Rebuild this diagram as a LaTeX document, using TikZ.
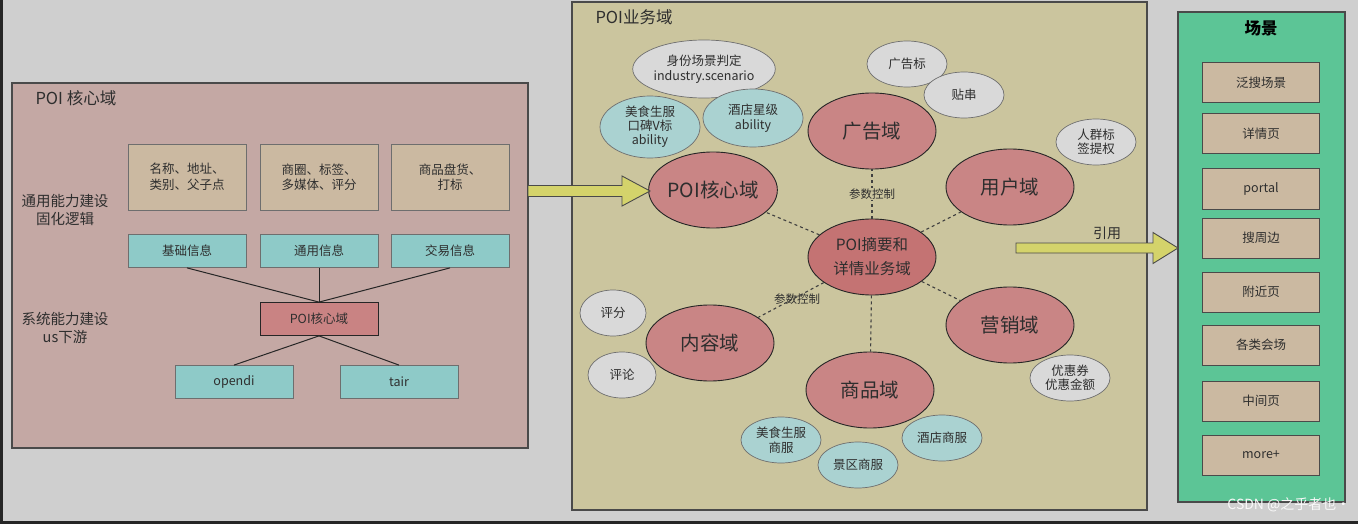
\documentclass[tikz,border=0pt]{standalone}
\usepackage{fontspec}
\setmainfont{Noto Sans CJK SC}
\usetikzlibrary{shapes.geometric}
\definecolor{bgc}{HTML}{CFCFCF}
\definecolor{leftp}{HTML}{C4A8A4}
\definecolor{tanc}{HTML}{CBB9A1}
\definecolor{cyanb}{HTML}{8ECAC8}
\definecolor{poib}{HTML}{C98383}
\definecolor{midp}{HTML}{CBC59E}
\definecolor{bigc}{HTML}{C98585}
\definecolor{cenc}{HTML}{C47373}
\definecolor{grayc}{HTML}{D9D9D9}
\definecolor{lcyan}{HTML}{AAD2D1}
\definecolor{arrc}{HTML}{D4D36B}
\definecolor{greenp}{HTML}{5CC596}
\definecolor{txt}{HTML}{2E2E2E}
\definecolor{edge}{HTML}{4A4A4A}
\begin{document}
\begin{tikzpicture}[x=1pt,y=-1pt,
  panel/.style={draw=edge,line width=1.2pt},
  tanbox/.style={draw=edge!80,fill=tanc,line width=0.8pt,minimum width=118pt,minimum height=66pt,inner sep=0pt,align=center,font=\fontsize{12.5}{15.5}\selectfont,text=txt},
  cyanbox/.style={draw=edge!80,fill=cyanb,line width=0.8pt,minimum width=118pt,minimum height=33pt,inner sep=0pt,align=center,font=\fontsize{12.5}{15}\selectfont,text=txt},
  scenebox/.style={draw=edge,fill=tanc,line width=1pt,minimum width=117pt,minimum height=40pt,inner sep=0pt,align=center,font=\fontsize{12.5}{15}\selectfont,text=txt},
  bigell/.style={ellipse,draw=black!85,fill=bigc,line width=0.9pt,minimum width=128pt,minimum height=76pt,inner sep=0pt,align=center,font=\fontsize{19.5}{22}\selectfont,text=txt},
  smallell/.style={ellipse,draw=edge!80,line width=0.7pt,minimum width=80pt,minimum height=46pt,inner sep=0pt,align=center,font=\fontsize{12.5}{14.5}\selectfont,text=txt},
  grayell/.style={smallell,fill=grayc},
  cyanell/.style={smallell,fill=lcyan},
  conn/.style={draw=black!85,line width=1pt},
  dconn/.style={draw=black!75,line width=1.1pt,dash pattern=on 3pt off 3pt},
  blockarrow/.style={draw=edge,fill=arrc,line width=0.9pt,line join=miter},
  lbl/.style={font=\fontsize{11.5}{13}\selectfont,text=txt}
]
% background and frame
\fill[black!85] (0,0) rectangle (1358,524);
\fill[bgc] (3,0) rectangle (1358,521);
\useasboundingbox (0,0) rectangle (1358,524);

% ===== left panel =====
\draw[panel,fill=leftp] (12,83) rectangle (528,448);
\node[anchor=west,font=\fontsize{16.5}{18}\selectfont,text=txt] (ltitle) at (32,98) {POI 核心域};
\node[align=center,font=\fontsize{14.5}{18.5}\selectfont,text=txt] (cap1) at (65,210) {通用能力建设\\固化逻辑};
\node[align=center,font=\fontsize{14.5}{18.5}\selectfont,text=txt] (cap2) at (65,328) {系统能力建设\\us下游};

\node[tanbox] (t1) at (187,177) {名称、地址、\\类别、父子点};
\node[tanbox] (t2) at (319,177) {商圈、标签、\\多媒体、评分};
\node[tanbox] (t3) at (450,177) {商品盘货、\\打标};

\node[cyanbox] (c1) at (187,251) {基础信息};
\node[cyanbox] (c2) at (319,251) {通用信息};
\node[cyanbox] (c3) at (450,251) {交易信息};

\node[cyanbox,fill=poib,draw=black!85] (poi) at (319,319) {POI核心域};
\node[cyanbox] (opendi) at (234,382) {opendi};
\node[cyanbox] (tair) at (399,382) {tair};

\draw[conn] (c1.south) -- (poi.north);
\draw[conn] (c2.south) -- (poi.north);
\draw[conn] (c3.south) -- (poi.north);
\draw[conn] (poi.south) -- (opendi.north);
\draw[conn] (poi.south) -- (tair.north);

% ===== middle panel =====
\draw[panel,fill=midp] (572,2) rectangle (1147,510);
\node[anchor=west,font=\fontsize{16.5}{18}\selectfont,text=txt] (mtitle) at (592,17) {POI业务域};

% satellite ellipses
\node[grayell,minimum width=124pt,minimum height=58pt] (sfcj) at (704,69) {身份场景判定\\industry.scenario};
\node[cyanell,minimum width=100pt,minimum height=62pt,font=\fontsize{12.5}{14}\selectfont] (msv) at (650,127) {美食生服\\口碑V标\\ability};
\node[cyanell,minimum width=100pt,minimum height=58pt] (jdxj) at (753,118) {酒店星级\\ability};
\node[grayell] (ggb) at (907,64) {广告标};
\node[grayell] (tc) at (964,95) {贴串};
\node[grayell] (rqb) at (1096,142) {人群标\\签提权};
\node[grayell] (yhq) at (1070,378) {优惠券\\优惠金额};
\node[grayell,minimum width=66pt] (pf) at (613,313) {评分};
\node[grayell,minimum width=68pt] (pl) at (622,375) {评论};
\node[cyanell] (mssf) at (781,440) {美食生服\\商服};
\node[cyanell] (jqsf) at (858,465) {景区商服};
\node[cyanell] (jdsf) at (942,438) {酒店商服};

% main domain ellipses
\node[bigell] (core) at (713,190) {POI核心域};
\node[bigell] (ad) at (872,131) {广告域};
\node[bigell] (user) at (1010,187) {用户域};
\node[bigell,fill=cenc,font=\fontsize{15.5}{24}\selectfont] (center) at (872,257) {POI摘要和\\详情业务域};
\node[bigell] (mkt) at (1010,325) {营销域};
\node[bigell] (content) at (710,343) {内容域};
\node[bigell] (goods) at (870,390) {商品域};

\draw[dconn] (center) -- (core);
\draw[dconn] (center) -- node[fill=midp,inner sep=1pt,lbl] (pc1) {参数控制} (ad);
\draw[dconn] (center) -- (user);
\draw[dconn] (center) -- (mkt);
\draw[dconn] (center) -- (goods);
\draw[dconn] (center) -- (content);
\node[lbl] (pc2) at (797,299) {参数控制};

% ===== right panel =====
\draw[panel,fill=greenp] (1178,12) rectangle (1345,502);
\node[font=\fontsize{16.5}{18}\selectfont\bfseries,text=black] (rtitle) at (1261,28) {场景};
\node[scenebox] (s1) at (1261,83) {泛搜场景};
\node[scenebox] (s2) at (1261,134) {详情页};
\node[scenebox] (s3) at (1261,189) {portal};
\node[scenebox] (s4) at (1261,238) {搜周边};
\node[scenebox] (s5) at (1261,292) {附近页};
\node[scenebox] (s6) at (1261,345) {各类会场};
\node[scenebox] (s7) at (1261,401) {中间页};
\node[scenebox] (s8) at (1261,455) {more+};

% ===== block arrows =====
\coordinate (a1s) at (528,191);
\coordinate (a1e) at (650,191);
\draw[blockarrow] (528,185.5) -- (622,185.5) -- (622,176) -- (a1e) -- (622,206) -- (622,196.5) -- (528,196.5) -- cycle;
\coordinate (a2s) at (1016,248);
\coordinate (a2e) at (1178,248);
\draw[blockarrow] (1016,243) -- (1153,243) -- (1153,232.5) -- (a2e) -- (1153,263.5) -- (1153,253) -- (1016,253) -- cycle;
\node[font=\fontsize{14}{16}\selectfont,text=txt] (yy) at (1107,233) {引用};

% watermark
\node[anchor=east,font=\fontsize{14}{16}\selectfont,text=white!95!gray] (wm) at (1354,505) {CSDN @之乎者也·};
\end{tikzpicture}
\end{document}
